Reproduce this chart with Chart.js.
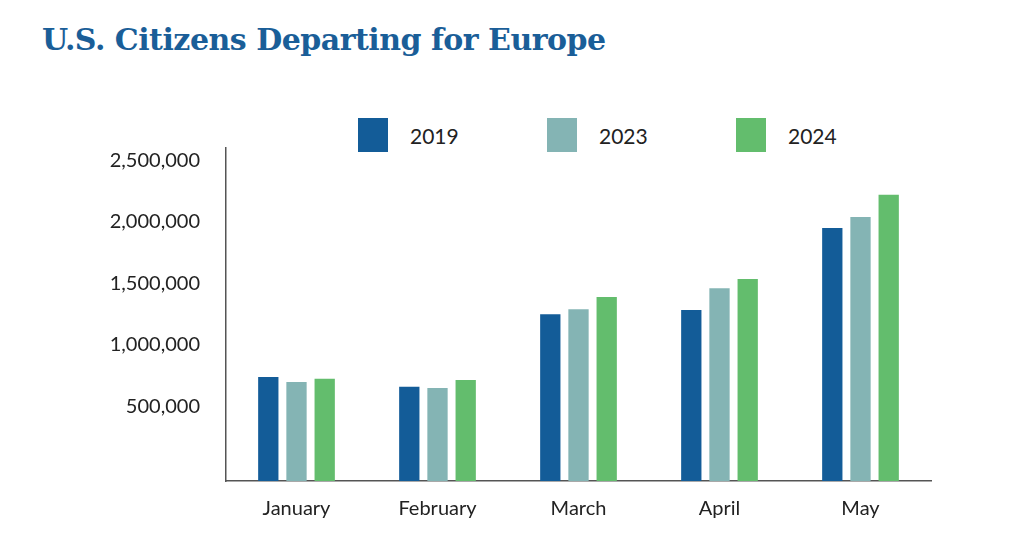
<!DOCTYPE html>
<html>
<head>
<meta charset="utf-8">
<script src="https://cdn.jsdelivr.net/npm/chart.js@4"></script>
<style>
  body { margin: 0; background: #fff; font-family: Lato, sans-serif; }
  #wrap { position: relative; width: 1024px; height: 538px; }
  h1 { position: absolute; left: 42px; top: 22px; margin: 0; font-family: "DejaVu Serif", serif;
       font-weight: bold; font-size: 30px; color: #1a5e98; letter-spacing: -0.5px; }
  #legend { position: absolute; top: 118px; left: 358px; display: flex; }
  .item { display: flex; align-items: center; width: 189px; font-size: 21px; color: #222; }
  .box { width: 30px; height: 34px; margin-right: 22px; }
  canvas { position: absolute; left: 0; top: 0; }
</style>
</head>
<body>
<div id="wrap">
  <h1>U.S. Citizens Departing for Europe</h1>
  <div id="legend"></div>
  <canvas id="c" width="1024" height="538"></canvas>
</div>
<script>
const months = ['January', 'February', 'March', 'April', 'May'];
const years = ['2019', '2023', '2024'];
const colors = ['#135c98', '#84b4b4', '#63bd6d'];
const v2019 = [740000, 660000, 1250000, 1285000, 1950000];
const v2023 = [700000, 650000, 1290000, 1460000, 2040000];
const v2024 = [725000, 715000, 1390000, 1535000, 2220000];
const tickValues = [500000, 1000000, 1500000, 2000000, 2500000];

// legend in html, built from the arrays
const legend = document.getElementById('legend');
years.forEach((y, i) => {
    legend.innerHTML += `<div class="item"><div class="box" style="background:${colors[i]}"></div>${y}</div>`;
});

const yMin = -105000;
new Chart(document.getElementById('c'), {
    type: 'bar',
    data: {
        labels: months,
        datasets: [v2019, v2023, v2024].map((d, i) => ({
            label: years[i],
            data: d,
            backgroundColor: colors[i],
            base: yMin,
            categoryPercentage: 0.6,
            barPercentage: 0.72
        }))
    },
    options: {
        responsive: false,
        animation: false,
        layout: { padding: { top: 148, right: 93, left: 0, bottom: 0 } },
        plugins: { legend: { display: false }, tooltip: { enabled: false } },
        scales: {
            x: {
                grid: { display: false },
                border: { color: '#555', width: 1.5 },
                ticks: { color: '#222', font: { family: 'Lato', size: 20 }, padding: 8 },
                afterFit: s => { s.height = 57; }
            },
            y: {
                min: yMin,
                max: 2600000,
                grid: { display: false },
                border: { color: '#555', width: 1.5 },
                afterBuildTicks: s => { s.ticks = tickValues.map(v => ({ value: v })); },
                ticks: {
                    color: '#222',
                    font: { family: 'Lato', size: 20 },
                    padding: 18,
                    callback: v => v.toLocaleString('en-US')
                },
                afterFit: s => { s.width = 226; }
            }
        }
    }
});
</script>
</body>
</html>
